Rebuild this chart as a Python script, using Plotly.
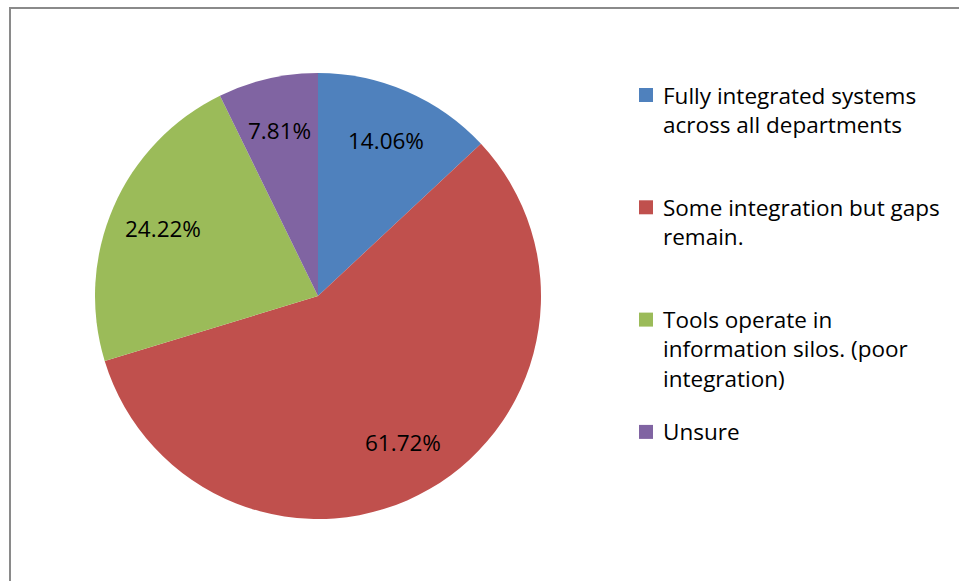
import math
import plotly.graph_objects as go

# Survey responses: level of tool integration across departments
categories = [
    "Fully integrated systems<br>across all departments",
    "Some integration but gaps<br>remain.",
    "Tools operate in<br>information silos. (poor<br>integration)",
    "Unsure",
]
values = [14.06, 61.72, 24.22, 7.81]
colors = ["#4F81BD", "#C0504D", "#9BBB59", "#8064A2"]

W, H = 959, 581
FONT = "Open Sans"
FS = 22.5
LINE_H = 1.3 * FS

# pie placement (pixels)
CX, CY, R = 318, 296, 223
LABEL_R = 0.76  # data labels sit at this fraction of the radius

fig = go.Figure(
    go.Pie(
        labels=categories,
        values=values,
        textinfo="none",
        marker=dict(colors=colors, line=dict(width=0)),
        sort=False,
        direction="clockwise",
        rotation=0,
        showlegend=False,
        hovertemplate="%{label}<br>%{value:.2f}%<extra></extra>",
        domain=dict(x=[(CX - R) / W, (CX + R) / W], y=[1 - (CY + R) / H, 1 - (CY - R) / H]),
    )
)

annotations = []
shapes = []

# data labels on the slice bisectors
total = sum(values)
start = 0.0
for v in values:
    sweep = 360.0 * v / total
    mid = math.radians(start + sweep / 2)
    px = CX + LABEL_R * R * math.sin(mid)
    py = CY - LABEL_R * R * math.cos(mid)
    annotations.append(
        dict(
            x=px / W, y=1 - py / H, xref="paper", yref="paper",
            text=f"{v:.2f}%", showarrow=False,
            xanchor="center", yanchor="middle",
            font=dict(family=FONT, size=FS, color="#000000"),
        )
    )
    start += sweep

# legend: colour square plus wrapped category name, evenly spaced
LEG_X_SQ, LEG_X_TXT, LEG_Y0, LEG_STEP, SQ = 639, 661, 95, 112.3, 14
for i, (cat, col) in enumerate(zip(categories, colors)):
    yc = LEG_Y0 + i * LEG_STEP
    shapes.append(
        dict(
            type="rect", xref="paper", yref="paper",
            x0=LEG_X_SQ / W, x1=(LEG_X_SQ + SQ) / W,
            y0=1 - (yc + SQ / 2) / H, y1=1 - (yc - SQ / 2) / H,
            fillcolor=col, line=dict(width=0),
        )
    )
    n = cat.count("<br>") + 1
    ymid = yc + (n - 1) * LINE_H / 2
    annotations.append(
        dict(
            x=LEG_X_TXT / W, y=1 - ymid / H, xref="paper", yref="paper",
            text=cat, showarrow=False, align="left",
            xanchor="left", yanchor="middle",
            font=dict(family=FONT, size=FS, color="#000000"),
        )
    )

# chart-area frame
shapes.append(
    dict(
        type="rect", xref="paper", yref="paper",
        x0=10 / W, x1=1.05, y0=-0.05, y1=1 - 8 / H,
        line=dict(color="#8A8A8A", width=2),
        fillcolor="rgba(0,0,0,0)", layer="below",
    )
)

fig.update_layout(
    width=W,
    height=H,
    margin=dict(l=0, r=0, t=0, b=0),
    paper_bgcolor="#FFFFFF",
    plot_bgcolor="#FFFFFF",
    font=dict(family=FONT, size=FS, color="#000000"),
    annotations=annotations,
    shapes=shapes,
)

fig.write_html("out.html")
